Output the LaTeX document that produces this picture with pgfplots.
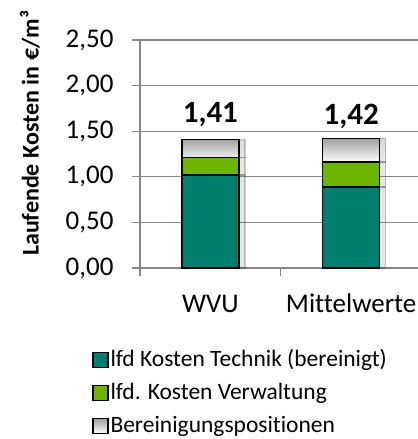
\documentclass[border=0pt]{standalone}
\usepackage{fontspec}
\setmainfont{Carlito}[Ligatures=NoCommon]
\usepackage{pgfplots}
\pgfplotsset{compat=1.18}
\usetikzlibrary{shadows}
\definecolor{teal1}{RGB}{0,127,110}
\definecolor{green1}{RGB}{108,181,0}
\definecolor{gridgray}{RGB}{134,134,134}
\begin{document}
\begin{tikzpicture}
\useasboundingbox (-140bp,-171bp) rectangle (278bp,268bp);
\begin{axis}[
  at={(0,0)}, anchor=south west,
  scale only axis, width=278bp, height=228bp,
  xmin=-0.5, xmax=1.475, ymin=0, ymax=2.5,
  ybar stacked, bar width=57bp,
  axis x line*=bottom, axis y line*=left,
  axis line style={gridgray, line width=1.2bp},
  ymajorgrids, grid style={gridgray, line width=1.2bp},
  tick style={gridgray, line width=1.2bp},
  tick align=outside, major tick length=8bp,
  ytick={0,0.5,1,1.5,2,2.5},
  xtick={-0.5,0.5,1.5}, xticklabels={},
  extra x ticks={0,1}, extra x tick labels={WVU,Mittelwerte},
  extra x tick style={major tick length=0pt, grid=none, xticklabel style={anchor=base, yshift=-44bp}},
  /pgf/number format/.cd, use comma, fixed, fixed zerofill, precision=2, 1000 sep={}, assume math mode=true,
  /pgfplots/.cd,
  tick label style={font=\fontsize{27bp}{30bp}\selectfont, text=black},
  yticklabel style={anchor=east, xshift=-15bp},
  ylabel={\bfseries Laufende Kosten in €/m³},
  ylabel style={at={(axis description cs:-0.396,0.59)}, anchor=center, font=\fontsize{24bp}{28bp}\selectfont},
  legend style={at={(axis description cs:-0.183,-0.338)}, anchor=north west, draw=none, fill=none,
    font=\fontsize{23.5bp}{28bp}\selectfont, row sep=7bp, cells={anchor=west},
    nodes={inner sep=2bp, text height=17bp, text depth=5bp}},
  legend image code/.code={\draw[#1, draw=black, line width=1.2bp] (0bp,-7.5bp) rectangle (15bp,7.5bp);},
  nodes near coords style={font=\bfseries\fontsize{31bp}{34bp}\selectfont, anchor=base, yshift=26bp},
]
\addplot[fill=teal1, draw=black, line width=1.5bp, drop shadow={shadow xshift=6bp, shadow yshift=0bp, opacity=0.2}, forget plot]
  coordinates {(0,1.02) (1,0.89)};
\addplot[fill=green1, draw=black, line width=1.5bp, drop shadow={shadow xshift=6bp, shadow yshift=0bp, opacity=0.2}, forget plot]
  coordinates {(0,0.19) (1,0.27)};
\addplot[top color=gray!75, bottom color=white, draw=black, line width=1.5bp, drop shadow={shadow xshift=6bp, shadow yshift=0bp, opacity=0.2}, forget plot,
  nodes near coords, point meta=explicit]
  table[meta=t] {
x y t
0 0.20 1.41
1 0.26 1.42
};
\addlegendimage{fill=teal1}
\addlegendentry{lfd Kosten Technik (bereinigt)}
\addlegendimage{fill=green1}
\addlegendentry{lfd. Kosten Verwaltung}
\addlegendimage{top color=gray!75, bottom color=white}
\addlegendentry{Bereinigungspositionen}
\end{axis}
\end{tikzpicture}
\end{document}
